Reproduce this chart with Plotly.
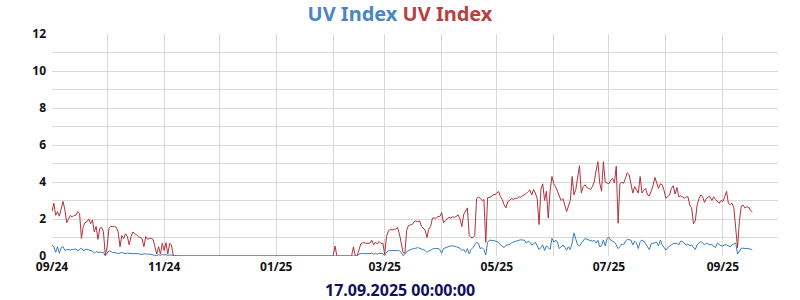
import pandas as pd
import plotly.graph_objects as go

start_date = "2024-09-01"

uv_max_autumn = [
    2.4, 2.85, 2.2, 2.4, 2.15, 2.6, 2.95, 2.5, 1.8, 2.0,
    2.2, 2.1, 2.2, 2.2, 2.4, 2.3, 0.95, 1.6, 1.8, 1.85,
    2.0, 1.75, 1.95, 1.3, 1.6, 0.9, 1.5, 1.55, 1.3, 0.02,
    0.5, 1.5, 1.6, 1.6, 1.6, 1.55, 1.3, 0.5, 1.1, 0.95,
    1.2, 1.05, 0.6, 1.05, 1.3, 1.2, 1.15, 1.05, 1.0, 0.95,
    0.5, 1.05, 0.9, 0.95, 0.95, 0.9, 0.5, 0.1, 0.5, 0.1,
    0.7, 0.3, 0.72, 0.1, 0.68, 0.6, 0.0,
]
uv_max_winter = [
    0, 0, 0, 0, 0, 0, 0, 0, 0, 0,
    0, 0, 0, 0, 0, 0, 0, 0, 0, 0,
    0, 0, 0, 0, 0, 0, 0, 0, 0, 0,
    0, 0, 0, 0, 0, 0, 0, 0, 0, 0,
    0, 0, 0, 0, 0, 0, 0, 0, 0, 0,
    0, 0, 0, 0, 0, 0, 0, 0, 0, 0,
    0, 0, 0, 0, 0, 0, 0, 0, 0, 0,
    0, 0, 0, 0, 0, 0, 0, 0, 0, 0,
    0, 0, 0, 0, 0, 0, 0,
    0.54, 0, 0, 0, 0, 0, 0, 0, 0, 0,
    0.5, 0, 0,
]
uv_max_spring = [
    0.3, 0.65, 0.72, 0.7, 0.7, 0.68, 0.7, 0.85, 0.6, 0.75,
    0.65, 0.78, 0.68, 0.7, 0.1, 1.05, 1.35, 1.45, 1.4, 1.45,
    1.45, 1.55, 1.2, 0.7, 0.2, 0.15, 1.4, 1.65, 1.68, 1.7,
    1.85, 1.9, 1.85, 1.9,
    1.6, 1.5, 1.4, 1.0, 1.45, 1.6, 2.05, 2.05, 2.05, 2.13,
    2.13, 2.35, 1.8, 1.9, 2.0, 2.1, 2.05, 2.13, 2.08, 2.13,
    2.22, 2.0, 1.59, 2.25, 2.45, 2.6, 1.1, 1.0, 1.0, 1.1,
    3.1, 3.18, 3.12, 3.0, 3.05, 0.74, 3.15, 3.18, 3.2, 3.33,
    3.3, 3.42, 3.48, 3.2, 3.05, 2.76, 2.6, 2.95, 3.0, 3.12,
]
uv_max_summer = [
    3.05, 3.12, 3.1, 3.2, 3.18, 3.25, 3.3, 3.38, 3.48, 3.57,
    3.3, 3.6, 3.4, 3.1, 1.7, 3.6, 3.9, 3.0, 3.5, 2.05,
    3.5, 4.3, 3.9, 3.75, 3.5, 3.2, 3.0, 3.1, 2.75, 2.4,
    2.7, 3.0, 4.3, 3.3, 3.6, 4.2, 4.88, 3.4, 3.75, 3.85,
    3.7, 3.66, 3.6, 3.75, 4.0, 4.6, 5.1, 3.95, 3.5, 5.1,
    4.0, 3.95, 3.9,
    4.1, 4.2, 3.95, 4.85, 1.77, 3.9, 4.0, 3.93, 4.2, 4.5,
    4.38, 3.9, 3.4, 3.75, 3.6, 3.4, 4.3, 3.4, 3.55, 3.65,
    3.3, 3.25, 3.5, 3.8, 4.25, 4.0, 3.65, 3.9, 3.85, 3.55,
    3.12, 3.2, 3.3, 3.66, 3.8, 3.35, 3.7, 3.2, 3.25, 3.2,
    3.12, 3.2, 3.2, 2.75, 2.6, 1.75, 1.9, 2.75, 3.1,
    3.3, 3.2, 2.9, 3.1, 3.2, 3.2, 3.0, 3.2, 3.05, 2.95,
    2.85, 3.0, 2.95, 3.2, 3.5, 2.85, 2.78, 2.85, 2.6, 1.5,
    0.45, 1.9, 2.7, 2.75, 2.6, 2.65, 2.65, 2.45, 2.4,
]

uv_mean_autumn = [
    0.58, 0.5, 0.2, 0.5, 0.15, 0.45, 0.5, 0.3, 0.35, 0.33,
    0.33, 0.35, 0.35, 0.38, 0.28, 0.35, 0.42, 0.3, 0.33, 0.36,
    0.33, 0.28, 0.26, 0.15, 0.25, 0.2, 0.22, 0.2, 0.18, 0.02,
    0.15, 0.28, 0.25, 0.18, 0.2, 0.18, 0.13, 0.16, 0.19, 0.15,
    0.13, 0.16, 0.14, 0.15, 0.12, 0.14, 0.15, 0.12, 0.1, 0.08,
    0.12, 0.13, 0.1, 0.1, 0.08, 0.06, 0.06, 0.02, 0.07, 0.03,
    0.08, 0.05, 0.08, 0.02, 0.06, 0.05, 0.0,
]
uv_mean_winter = [
    0, 0, 0, 0, 0, 0, 0, 0, 0, 0,
    0, 0, 0, 0, 0, 0, 0, 0, 0, 0,
    0, 0, 0, 0, 0, 0, 0, 0, 0, 0,
    0, 0, 0, 0, 0, 0, 0, 0, 0, 0,
    0, 0, 0, 0, 0, 0, 0, 0, 0, 0,
    0, 0, 0, 0, 0, 0, 0, 0, 0, 0,
    0, 0, 0, 0, 0, 0, 0, 0, 0, 0,
    0, 0, 0, 0, 0, 0, 0, 0, 0, 0,
    0, 0, 0, 0, 0, 0, 0, 0, 0, 0,
    0, 0, 0, 0, 0, 0, 0, 0, 0, 0,
]
uv_mean_spring = [
    0.1, 0.13, 0.15, 0.13, 0.12, 0.14, 0.13, 0.16, 0.1, 0.13,
    0.11, 0.15, 0.12, 0.13, 0.02, 0.2, 0.27, 0.3, 0.3, 0.29,
    0.31, 0.3, 0.28, 0.2, 0.02, 0.1, 0.25, 0.3, 0.33, 0.38,
    0.4, 0.42, 0.45, 0.42,
    0.38, 0.33, 0.3, 0.2, 0.28, 0.3, 0.38, 0.4, 0.41, 0.41,
    0.35, 0.15, 0.4, 0.45, 0.48, 0.52, 0.55, 0.55, 0.53, 0.5,
    0.45, 0.42, 0.3, 0.35, 0.2, 0.4, 0.12, 0.35, 0.45, 0.6,
    0.74, 0.68, 0.4, 0.45, 0.35, 0.05, 0.74, 0.86, 0.86, 0.86,
    0.82, 0.78, 0.74, 0.6, 0.5, 0.45, 0.58, 0.59, 0.62, 0.72,
]
uv_mean_summer = [
    0.75, 0.8, 0.85, 0.86, 0.88, 0.86, 0.86, 0.7, 0.8, 0.75,
    0.6, 0.65, 0.75, 0.55, 0.35, 0.45, 0.6, 0.3, 0.55, 0.45,
    0.35, 0.95, 0.75, 0.86, 0.75, 0.4, 0.5, 0.6, 0.45, 0.32,
    0.5, 0.35, 0.7, 1.25, 0.9, 0.6, 0.55, 0.68, 0.77, 0.95,
    0.9, 0.86, 0.86, 0.8, 0.85, 0.7, 0.85, 0.5, 0.55, 0.86,
    0.55, 0.95, 1.0,
    0.85, 0.8, 0.75, 0.6, 0.4, 0.5, 0.65, 0.6, 0.8, 0.9,
    0.86, 0.86, 0.6, 0.8, 0.7, 0.4, 0.78, 0.86, 0.8, 0.65,
    0.5, 0.35, 0.65, 0.7, 0.7, 0.75, 0.55, 0.86, 0.6, 0.45,
    0.32, 0.45, 0.55, 0.6, 0.68, 0.68, 0.68, 0.6, 0.8, 0.8,
    0.68, 0.58, 0.65, 0.55, 0.6, 0.45, 0.35, 0.6, 0.68,
    0.78, 0.72, 0.6, 0.7, 0.65, 0.6, 0.62, 0.55, 0.45, 0.7,
    0.6, 0.55, 0.55, 0.6, 0.6, 0.55, 0.5, 0.6, 0.65, 0.7,
    0.1, 0.3, 0.42, 0.42, 0.42, 0.42, 0.42, 0.38, 0.32,
]

uv_red = uv_max_autumn + uv_max_winter + uv_max_spring + uv_max_summer
uv_blue = uv_mean_autumn + uv_mean_winter + uv_mean_spring + uv_mean_summer

y_ticks = [0, 2, 4, 6, 8, 10, 12]
x_range = ["2024-09-01", "2025-10-01"]
timestamp_label = "17.09.2025 00:00:00"

dates_red = pd.date_range(start_date, periods=len(uv_red), freq="D")
dates_blue = pd.date_range(start_date, periods=len(uv_blue), freq="D")

RED = "#b3323a"
BLUE = "#3a7db8"
GRID = "#d9d9d9"
FONT = "Noto Sans"

fig = go.Figure()
fig.add_trace(go.Scatter(x=dates_red, y=uv_red, mode="lines",
                         line=dict(color=RED, width=1), name="UV Index"))
fig.add_trace(go.Scatter(x=dates_blue, y=uv_blue, mode="lines",
                         line=dict(color=BLUE, width=1), name="UV Index"))

fig.update_layout(
    width=800, height=300,
    margin=dict(l=52, r=22, t=34, b=44),
    paper_bgcolor="white", plot_bgcolor="white",
    showlegend=False,
    title=dict(
        text="<span style='color:#4a86c0'>UV Index</span> <span style='color:#b8403f'>UV Index</span>",
        x=0.5, xanchor="center", y=0.955, yanchor="middle",
        font=dict(family=FONT, size=20, weight="bold"),
    ),
    font=dict(family=FONT, size=12, color="#111111"),
)
fig.update_xaxes(
    type="date", range=x_range, dtick="M2", tick0="2024-09-01",
    tickformat="%m/%y", showgrid=True, gridcolor=GRID, gridwidth=1,
    minor=dict(dtick="M1", showgrid=True, gridcolor=GRID, gridwidth=1),
    tickfont=dict(family=FONT, size=12, weight="bold", color="#111111"),
    ticks="", zeroline=False, showline=False, ticklabelstandoff=2,
)
fig.update_yaxes(
    range=[0, 12], tickvals=y_ticks, showgrid=True, gridcolor=GRID, gridwidth=1,
    minor=dict(dtick=1, showgrid=True, gridcolor=GRID, gridwidth=1),
    tickfont=dict(family=FONT, size=12, weight="bold", color="#111111"),
    ticks="", zeroline=False, showline=False, ticklabelstandoff=5,
)
fig.add_annotation(
    text=timestamp_label, xref="paper", yref="paper", x=0.479, y=-0.155,
    xanchor="center", yanchor="middle", showarrow=False,
    font=dict(family=FONT, size=16, weight="bold", color="#10105a"),
)

fig.write_html("out.html")
